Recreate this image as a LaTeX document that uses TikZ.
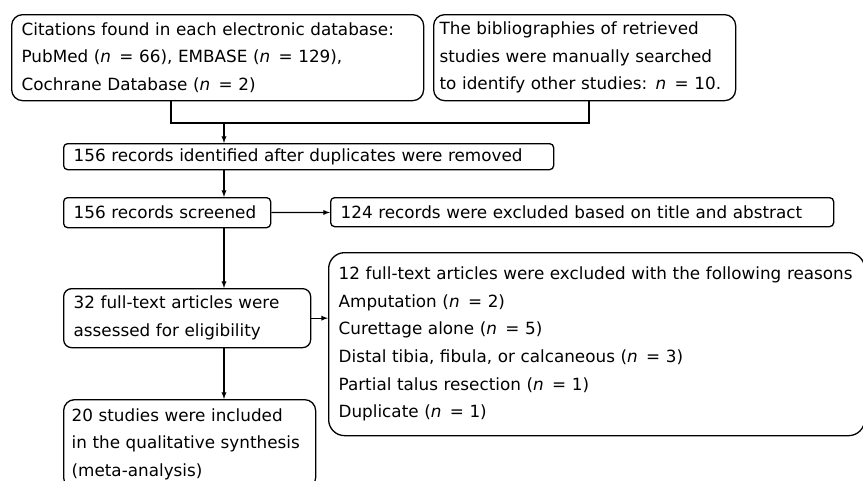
\documentclass[tikz,border=0pt]{standalone}
\usepackage{fontspec}
\setmainfont{DejaVu Sans}
\usetikzlibrary{arrows, calc}

\newcommand{\nval}[1]{\textit{n}\enspace= #1}

\begin{document}
\begin{tikzpicture}[x=1pt, y=-1pt, line width=1.3pt, >=latex,
        font=\fontsize{16.8}{27.6}\selectfont,
        box/.style={draw, rounded corners=4pt, anchor=north west, align=left,
            inner xsep=10pt, inner ysep=0pt},
        bigbox/.style={box, rounded corners=11pt}]
        \useasboundingbox (0,0) rectangle (863,480);

        \node[bigbox, text width=392, minimum height=86] (cit) at (11,14)
            {Citations found in each electronic database:\\
             PubMed (\nval{66}), EMBASE (\nval{129}),\\
             Cochrane Database (\nval{2})};
        \node[bigbox, text width=290, minimum height=86, inner xsep=6pt] (bib) at (433,14)
            {The bibliographies of retrieved\\
             studies were manually searched\\
             to identify other studies: \nval{10}.};

        \node[box, text width=470, minimum height=26] (ident) at (63,143)
            {156 records identified after duplicates were removed};
        \node[box, text width=187, minimum height=30] (screen) at (63,197)
            {156 records screened};
        \node[box, text width=483, minimum height=29] (excl) at (330,197)
            {124 records were excluded based on title and abstract};
        \node[box, rounded corners=8pt, text width=227, minimum height=59] (full) at (63,288)
            {32 full-text articles were\\ assessed for eligibility};
        \node[bigbox, rounded corners=16pt, text width=516, minimum height=183] (reasons) at (328,252)
            {12 full-text articles were excluded with the following reasons\\
             Amputation (\nval{2})\\
             Curettage alone (\nval{5})\\
             Distal tibia, fibula, or calcaneous (\nval{3})\\
             Partial talus resection (\nval{1})\\
             Duplicate (\nval{1})};
        \node[bigbox, text width=236, minimum height=89, inner xsep=8pt] (incl) at (63,399)
            {20 studies were included\\
             in the qualitative synthesis\\
             (meta-analysis)};

        \coordinate (cl) at (171,123);
        \coordinate (cm) at (224,123);
        \coordinate (cr) at (589,123);

        \draw (cit.south -| cl) -- (cl) -- (cr) -- (bib.south -| cr);
        \draw[->] (cm) -- (ident.north -| cm);
        \draw[->] (ident.south -| cm) -- (screen.north -| cm);
        \draw[->] (screen) -- (excl);
        \draw[->] (screen.south -| cm) -- (full.north -| cm);
        \draw[->] (full.east) -- (full.east -| reasons.west);
        \draw[->] (full.south -| cm) -- (incl.north -| cm);
    \end{tikzpicture}
\end{document}
